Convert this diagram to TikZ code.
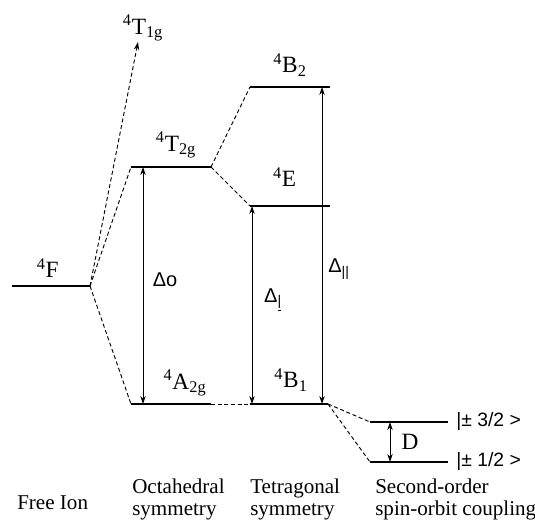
\documentclass[tikz,border=0pt]{standalone}
\usepackage{fontspec}
\setmainfont{Liberation Serif}
\setsansfont{Liberation Sans}
\usetikzlibrary{arrows.meta, positioning}
\newcommand{\state}[3]{\textsuperscript{#1}#2\textsubscript{#3}}
\tikzset{
	level/.style={line width=1pt},
	link/.style={dash pattern=on 3pt off 2pt, line width=0.7pt},
	gap/.style={{Stealth[length=6pt, width=4pt]}-{Stealth[length=6pt, width=4pt]}, line width=0.6pt},
	termlabel/.style={inner sep=0pt, font=\fontsize{17.5}{20}\selectfont},
	deltalabel/.style={inner sep=0pt, font=\sffamily\fontsize{15}{18}\selectfont},
	spinlabel/.style={inner sep=0pt, anchor=west, font=\sffamily\fontsize{14.5}{17}\selectfont},
	caption/.style={inner sep=0pt, anchor=north west, align=left, font=\fontsize{15.8}{16.2}\selectfont},
}

\begin{document}
\begin{tikzpicture}[x=0.75pt, y=-0.75pt]
	\useasboundingbox (0,0) rectangle (535,523);
	% level ends
	\coordinate (F-l) at (12,286);    \coordinate (F-r) at (90,286);
	\coordinate (T2g-l) at (131,167); \coordinate (T2g-r) at (211,167);
	\coordinate (A2g-l) at (131,404); \coordinate (A2g-r) at (211,404);
	\coordinate (B2-l) at (250,87);   \coordinate (B2-r) at (330,87);
	\coordinate (E-l) at (250,206);   \coordinate (E-r) at (330,206);
	\coordinate (B1-l) at (250,404);  \coordinate (B1-r) at (328,404);
	\coordinate (s32-l) at (370,422); \coordinate (s32-r) at (448,422);
	\coordinate (s12-l) at (370,462); \coordinate (s12-r) at (448,462);
	\coordinate (T1g-tip) at (138,42);
	% levels
	\foreach \x in {F,T2g,A2g,B2,E,B1,s32,s12}{\draw[level] (\x-l) -- (\x-r);}
	% correlation lines
	\draw[link, -{Stealth[length=6pt, width=4pt]}] (F-r) -- (T1g-tip);
	\foreach \x in {T2g,A2g}{\draw[link] (F-r) -- (\x-l);}
	\foreach \x in {B2,E}{\draw[link] (T2g-r) -- (\x-l);}
	\foreach \x in {s32,s12}{\draw[link] (B1-r) -- (\x-l);}
	\draw[link] (A2g-r) -- (B1-l);
	% splittings
	\draw[gap] (143,167) -- (143,404);
	\draw[gap] (252,206) -- (252,404);
	\draw[gap] (322,87) -- (322,404);
	\draw[gap] (390,422) -- (390,462);
	% term labels
	\node[termlabel] (lT1g) at (143,28) {\state{4}{T}{1g}};
	\node[termlabel] (lF) at (48,270) {\state{4}{F}{}};
	\node[termlabel] (lT2g) at (176,145) {\state{4}{T}{2g}};
	\node[termlabel] (lA2g) at (185,383) {\state{4}{A}{2g}};
	\node[termlabel] (lB2) at (290,65) {\state{4}{B}{2}};
	\node[termlabel] (lE) at (285,179) {\state{4}{E}{}};
	\node[termlabel] (lB1) at (291,380) {\state{4}{B}{1}};
	\node[deltalabel] (dO) at (165,280) {Δo};
	\node[deltalabel] (dPerp) at (273,300) {Δ\textsubscript{\underline{|}}};
	\node[deltalabel] (dPar) at (339,269) {Δ\textsubscript{||}};
	\node[termlabel] (lD) at (410,442) {D};
	\node[spinlabel] (l32) at (456,422) {|± 3/2 >};
	\node[spinlabel] (l12) at (456,462) {|± 1/2 >};
	% captions
	\node[caption, anchor=base west] (cFree) at (17,509) {Free Ion};
	\node[caption] (cOct) at (132,479) {Octahedral\\symmetry};
	\node[caption] (cTet) at (250,479) {Tetragonal\\symmetry};
	\node[caption] (cSO) at (375,479) {Second-order\\spin-orbit coupling};
\end{tikzpicture}
\end{document}
